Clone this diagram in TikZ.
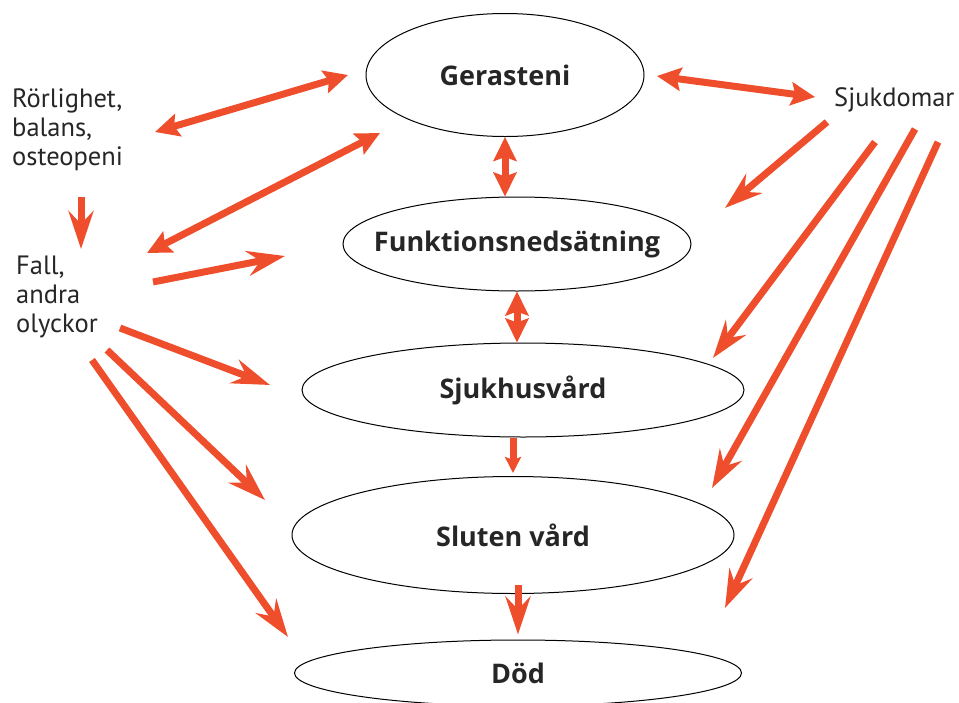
\documentclass[tikz,border=0pt]{standalone}
\usepackage{fontspec}
\setmainfont{PT Sans}
\newfontfamily\fetfont{Open Sans}
\usetikzlibrary{arrows.meta,shapes.geometric}
\definecolor{pilrod}{RGB}{239,78,44}
\begin{document}
\begin{tikzpicture}[x=1pt,y=-1pt,
  oval/.style={draw,ellipse,line width=1pt,inner sep=0pt,font=\fetfont\fontsize{27}{30}\selectfont\bfseries,text=black!85},
  txt/.style={align=left,inner sep=0pt,font=\fontsize{26.5}{29}\selectfont,text=black!85},
  pil/.style={draw=pilrod,line width=7pt,-{Stealth[length=38pt,width=25pt,inset=13pt]}},
  litenpil/.style={draw=pilrod,line width=7pt,-{Stealth[length=16pt,width=16pt,inset=3pt]}},
  dubbelpil/.style={draw=pilrod,line width=7pt,{Stealth[length=24pt,width=23pt,inset=4pt]}-{Stealth[length=24pt,width=23pt,inset=4pt]}}]
\useasboundingbox (0,0) rectangle (959,702);
\clip (0,0) rectangle (959,702);
%
\node[oval,minimum width=278pt,minimum height=123pt] (ger) at (505,75) {Gerasteni};
\node[oval,inner xsep=-20pt,minimum width=346pt,minimum height=94pt] (fun) at (517,244) {Funktionsnedsätning};
\node[oval,minimum width=442pt,minimum height=94pt] (sju) at (523,390) {Sjukhusvård};
\node[oval,minimum width=442pt,minimum height=117pt] (slu) at (513,535) {Sluten vård};
\node[oval,minimum width=447pt,minimum height=66pt] (dod) at (518,673) {Död};
%
\node[txt,anchor=base west] (rorl) at (12,165) {Rörlighet,\\balans,\\osteopeni};
\node[txt,anchor=base west] (fall) at (16,332) {Fall,\\andra\\olyckor};
\node[txt,anchor=base west] (sjd) at (834,106) {Sjukdomar};
%
\coordinate (r1) at (155,132);
\coordinate (g1) at (348,75);
\coordinate (f1) at (147,253);
\coordinate (g2) at (380,133);
\coordinate (f2) at (153,282);
\coordinate (n1) at (285,256);
\coordinate (r2) at (81,197);
\coordinate (f3) at (81,249);
\coordinate (f4) at (120,328);
\coordinate (h1) at (270,385);
\coordinate (f5) at (107,350);
\coordinate (s1) at (265,500);
\coordinate (f6) at (92,360);
\coordinate (d1) at (288,637);
\coordinate (g3) at (657,76);
\coordinate (k1) at (815,97);
\coordinate (k2) at (827,122);
\coordinate (n2) at (725,208);
\coordinate (k3) at (875,142);
\coordinate (h2) at (713,358);
\coordinate (k4) at (915,129);
\coordinate (s2) at (712,488);
\coordinate (k5) at (938,142);
\coordinate (d2) at (725,608);
%
\draw[dubbelpil] (r1)--(g1);
\draw[dubbelpil] (f1)--(g2);
\draw[pil] (f2)--(n1);
\draw[pil] (r2)--(f3);
\draw[pil] (f4)--(h1);
\draw[pil] (f5)--(s1);
\draw[pil] (f6)--(d1);
%
\draw[dubbelpil] (ger.south)--(ger.south|-fun.north);
\draw[dubbelpil] (fun.south)--(fun.south|-sju.north);
\draw[litenpil,shorten >=3pt] (slu.north|-sju.south)--(slu.north);
\draw[pil,shorten <=-9pt,shorten >=5pt] (dod.north|-slu.south)--(dod.north);
%
\draw[dubbelpil] (g3)--(k1);
\draw[pil] (k2)--(n2);
\draw[pil] (k3)--(h2);
\draw[pil] (k4)--(s2);
\draw[pil] (k5)--(d2);
\end{tikzpicture}
\end{document}
